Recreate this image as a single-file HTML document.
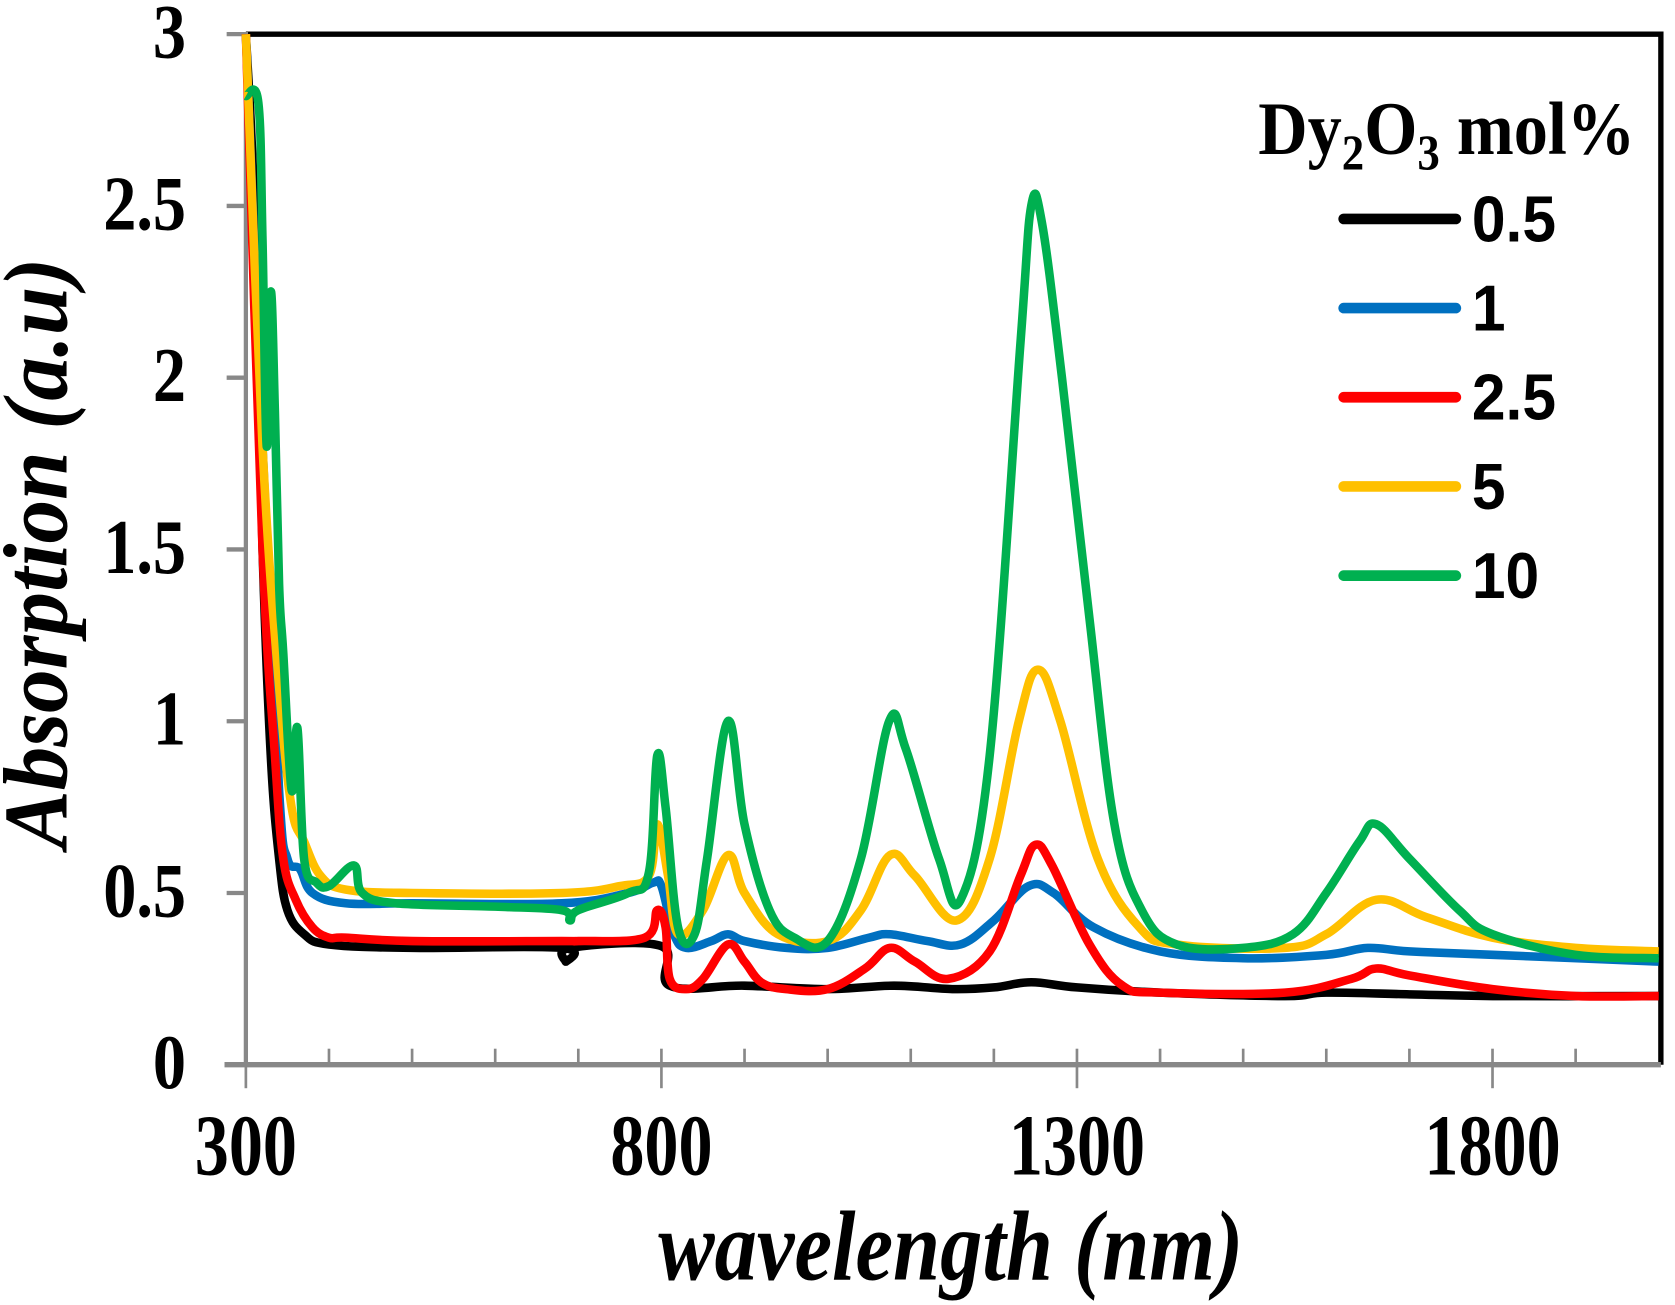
<!DOCTYPE html>
<html><head><meta charset="utf-8"><style>
html,body{margin:0;padding:0;background:#fff;}
svg{display:block;}
text{font-family:"Liberation Serif",serif;font-weight:bold;}
</style></head><body>
<svg id="chart" width="1675" height="1305" viewBox="0 0 1568 1222" xmlns="http://www.w3.org/2000/svg">
<g id="axes"></g>
<g id="series"></g>
<g id="legend">
<text transform="translate(1178,144) scale(1,1.1)" font-size="64">Dy<tspan font-size="42" dy="13">2</tspan><tspan dy="-13">O</tspan><tspan font-size="42" dy="13">3</tspan><tspan dy="-13"> mol%</tspan></text>
</g>
<text transform="translate(890,1198) scale(1.1,1.3)" font-size="72" font-style="italic" text-anchor="middle">wavelength (nm)</text>
<text transform="translate(62,518) rotate(-90) scale(1.2,1.25)" font-size="68" font-style="italic" text-anchor="middle">Absorption (a.u)</text>
</svg>
<script>
const seriesNames = ["0.5","1","2.5","5","10"];
const seriesColors = ["#000000","#0070C0","#FF0000","#FFC000","#00B050"];
const xTicks = [300,800,1300,1800];
const yTicks = [0,0.5,1,1.5,2,2.5,3];
const yTickLabels = ["0","0.5","1","1.5","2","2.5","3"];
const wl05 = [300,310,320,330,340,350,370,400,500,680,685,690,800,810,900,1000,1080,1150,1200,1245,1300,1400,1550,1600,1700,1800,2000];
const ab05 = [3,2.5,1.5,0.9,0.6,0.45,0.38,0.35,0.34,0.34,0.30,0.34,0.345,0.23,0.23,0.22,0.23,0.22,0.225,0.24,0.225,0.21,0.2,0.21,0.205,0.2,0.2];
const wl1 = [300,320,340,350,365,380,420,500,680,760,790,800,815,830,860,880,900,950,1000,1050,1075,1120,1160,1200,1242,1272,1320,1400,1500,1600,1650,1700,1800,2000];
const ab1 = [3,1.8,0.8,0.6,0.57,0.5,0.47,0.47,0.47,0.5,0.53,0.52,0.38,0.34,0.36,0.38,0.36,0.34,0.34,0.37,0.38,0.36,0.35,0.42,0.52,0.5,0.4,0.33,0.31,0.32,0.34,0.33,0.32,0.3];
const wl25 = [300,320,335,345,360,380,400,420,500,680,700,780,795,805,810,830,850,880,900,920,950,1000,1045,1075,1105,1145,1195,1232,1250,1270,1315,1355,1400,1550,1630,1660,1700,1800,1900,2000];
const ab25 = [3,1.5,0.9,0.6,0.48,0.4,0.37,0.37,0.36,0.36,0.36,0.37,0.45,0.4,0.25,0.22,0.25,0.35,0.3,0.24,0.22,0.22,0.28,0.34,0.3,0.25,0.33,0.55,0.64,0.58,0.35,0.23,0.21,0.21,0.25,0.28,0.26,0.22,0.2,0.2];
const wl5 = [300,320,340,355,370,390,420,500,680,750,785,795,808,820,850,880,900,940,1000,1040,1075,1105,1155,1195,1230,1253,1280,1325,1375,1420,1550,1600,1660,1720,1800,1900,2000];
const ab5 = [3,1.8,1.1,0.75,0.65,0.55,0.51,0.5,0.5,0.52,0.55,0.7,0.55,0.38,0.45,0.61,0.5,0.38,0.36,0.45,0.61,0.55,0.42,0.6,1.0,1.15,1.0,0.6,0.4,0.35,0.34,0.38,0.48,0.43,0.37,0.34,0.33];
const wl10 = [300,315,320,325,330,335,340,345,355,362,370,385,400,430,440,480,600,680,690,700,760,785,795,805,820,840,855,880,900,930,960,1000,1040,1074,1094,1134,1160,1195,1232,1245,1258,1282,1315,1345,1378,1420,1500,1560,1600,1640,1660,1700,1760,1800,1900,2000];
const ab10 = [2.82,2.8,2.4,1.8,2.25,1.9,1.4,1.2,0.8,0.98,0.6,0.53,0.52,0.58,0.5,0.47,0.46,0.45,0.42,0.45,0.5,0.56,0.9,0.75,0.4,0.38,0.6,1.0,0.7,0.45,0.37,0.36,0.6,1.0,0.92,0.6,0.48,0.9,2.1,2.5,2.45,2.0,1.3,0.7,0.45,0.35,0.34,0.38,0.5,0.65,0.7,0.6,0.45,0.38,0.32,0.31];
const allWl = [wl05,wl1,wl25,wl5,wl10];
const allAb = [ab05,ab1,ab25,ab5,ab10];

const NS="http://www.w3.org/2000/svg";
const X0=230,X1=1553,Y0=997,Y1=32,XMIN=300,XMAX=2000,YMIN=0,YMAX=3;
function sx(v){return X0+(v-XMIN)/(XMAX-XMIN)*(X1-X0);}
function sy(v){return Y0-(v-YMIN)/(YMAX-YMIN)*(Y0-Y1);}
function mk(tag,attrs,parent){const e=document.createElementNS(NS,tag);for(const k in attrs)e.setAttribute(k,attrs[k]);parent.appendChild(e);return e;}
function smoothPath(pts){
  let d='M'+pts[0][0].toFixed(1)+','+pts[0][1].toFixed(1);
  for(let i=0;i<pts.length-1;i++){
    const p0=pts[Math.max(i-1,0)],p1=pts[i],p2=pts[i+1],p3=pts[Math.min(i+2,pts.length-1)];
    const t=0.18;
    const c1x=p1[0]+(p2[0]-p0[0])*t,c1y=p1[1]+(p2[1]-p0[1])*t;
    const c2x=p2[0]-(p3[0]-p1[0])*t,c2y=p2[1]-(p3[1]-p1[1])*t;
    d+=` C${c1x.toFixed(1)},${c1y.toFixed(1)} ${c2x.toFixed(1)},${c2y.toFixed(1)} ${p2[0].toFixed(1)},${p2[1].toFixed(1)}`;
  }
  return d;
}
const axes=document.getElementById('axes');
let fr=mk('path',{d:`M${X0},${Y1} L${X1+2},${Y1} L${X1+2},${Y0}`,fill:'none',stroke:'#000','stroke-width':5},axes);


let xa=mk('line',{x1:X0-20,y1:Y0,x2:X1+2,y2:Y0,stroke:'#888','stroke-width':5},axes);


let ya=mk('line',{x1:X0,y1:Y1-2,x2:X0,y2:Y0,stroke:'#888','stroke-width':4},axes);


for(let v=400;v<2000;v+=100){
  const major=(v-300)%500===0;
  let t=mk('line',{x1:sx(v),y1:Y0-15,x2:sx(v),y2:major?Y0+22:Y0,stroke:'#888','stroke-width':2.5},axes);
  
  
}
mk('line',{x1:X0,y1:Y0,x2:X0,y2:Y0+22,stroke:'#888','stroke-width':2.5},axes);
xTicks.forEach(v=>{
  let t=mk('text',{transform:`translate(${sx(v)},1100) scale(1.1,1.4)`,'font-size':58,'text-anchor':'middle'},axes);
  t.textContent=v;
  
  
});
yTicks.forEach((v,i)=>{
  let tk=mk('line',{x1:X0-18,y1:sy(v),x2:X0,y2:sy(v),stroke:'#888','stroke-width':4},axes);
  
  
  let t=mk('text',{transform:`translate(174,${sy(v)+22}) scale(1.15,1.35)`,'font-size':54,'text-anchor':'end'},axes);
  t.textContent=yTickLabels[i];
  
  
});
const sg=document.getElementById('series');
const leg=document.getElementById('legend');
allWl.forEach((wl,i)=>{
  const pts=wl.map((w,j)=>[sx(w),sy(allAb[i][j])]);
  let p=mk('path',{d:smoothPath(pts),fill:'none',stroke:seriesColors[i],'stroke-width':8,'stroke-linejoin':'round'},sg);
  
  
  const ly=205+i*83.5;
  let ll=mk('line',{x1:1258,y1:ly,x2:1363,y2:ly,stroke:seriesColors[i],'stroke-width':10,'stroke-linecap':'round'},leg);
  
  
  let lt=mk('text',{transform:`translate(1378,${ly+21}) scale(1.05,1.12)`,'font-size':54,style:'font-family:"Liberation Sans",sans-serif;font-weight:bold'},leg);
  lt.textContent=seriesNames[i];
  
  
});
</script>
</body></html>
